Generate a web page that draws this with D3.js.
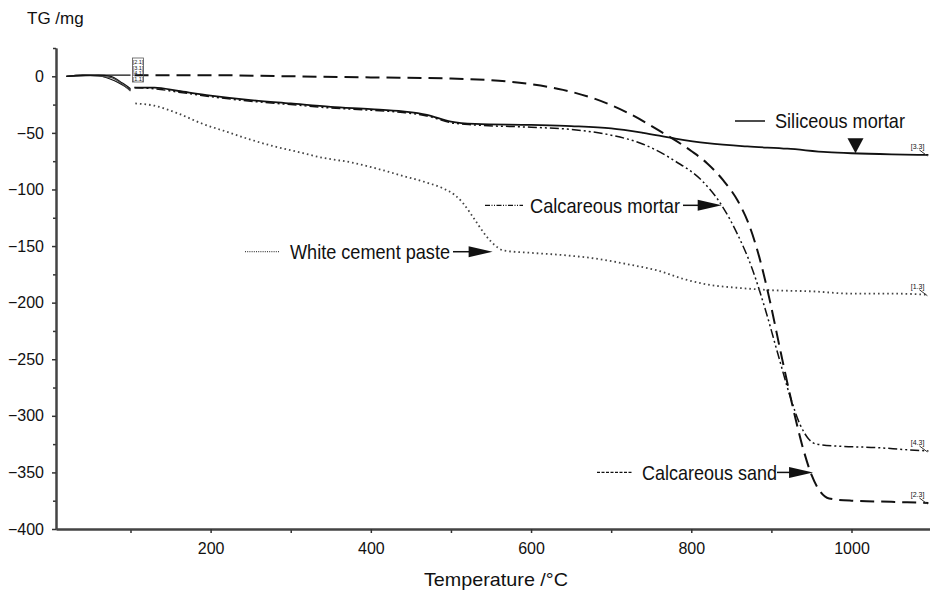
<!DOCTYPE html>
<meta charset="utf-8">
<style>
body { margin: 0; background: #fff; }
svg text { font-family: "Liberation Sans", Arial, sans-serif; fill: #111; }
.axis path, .axis line { stroke: #333; stroke-width: 1.5px; }
.axis text { font-size: 16px; fill: #111; }
.curve { fill: none; stroke: #111; }
</style>
<svg width="930" height="592"></svg>
<script src="https://d3js.org/d3.v7.min.js"></script>
<script>

// ---- data (temperature in degC, mass change in mg) ----
var seriesNames = ["Siliceous mortar", "Calcareous mortar", "White cement paste", "Calcareous sand"];
var startLabels = ["[2.1]", "[3.1]", "[4.1]", "[1.1]"];
var endLabels = ["[3.3]", "[4.3]", "[1.3]", "[2.3]"];

var siliceousStart = [[20, 0], [40, 1], [60, 1], [75, 0], [90, -6], [100, -11]];
var siliceousMain = [[105, -10], [130, -10], [160, -13], [200, -17], [250, -21], [300, -24], [350, -27],
  [400, -29], [440, -31], [470, -34], [500, -40], [530, -42], [600, -43], [650, -44], [700, -46],
  [740, -50], [780, -55], [820, -59], [870, -62], [920, -64], [970, -67], [1000, -68], [1050, -69], [1096, -69.5]];

var calcMortarStart = [[20, 0], [40, 1], [60, 0.5], [80, -4], [100, -12]];
var calcMortarMain = [[105, -10], [130, -11], [160, -14], [200, -18], [250, -22], [300, -25], [350, -28],
  [400, -30], [440, -32], [470, -35], [500, -41], [530, -43], [600, -45], [650, -47], [700, -52],
  [740, -60], [780, -75], [813, -92], [838, -114], [858, -140], [875, -168], [892, -205], [908, -245],
  [923, -282], [936, -308], [946, -320], [956, -325], [990, -327], [1030, -328], [1070, -330], [1096, -331]];

var pasteStart = [[20, 0], [50, 0.5], [75, -1], [90, -7], [100, -13]];
var pasteMain = [[106, -24], [130, -26], [160, -33], [190, -42], [220, -49], [250, -56], [280, -62],
  [310, -67], [340, -72], [375, -76], [410, -82], [440, -88], [470, -94], [490, -99], [505, -105],
  [515, -112], [530, -127], [545, -142], [556, -150], [566, -154], [600, -156], [640, -158], [680, -161],
  [720, -166], [760, -172], [790, -179], [820, -184], [860, -187], [900, -189], [950, -190],
  [1000, -192], [1050, -192], [1096, -193]];

var sandStart = [[20, 0], [60, 1], [100, 1]];
var sandMain = [[105, 1], [200, 1], [300, 0], [400, -1], [500, -2], [560, -4], [600, -7], [640, -12],
  [680, -20], [720, -32], [760, -48], [800, -66], [820, -77], [840, -92], [858, -110], [872, -131],
  [885, -160], [898, -198], [912, -245], [926, -290], [940, -330], [950, -352], [960, -366],
  [972, -373], [1000, -375], [1050, -376], [1096, -377]];

var xTicks = [200, 400, 600, 800, 1000];
var xMinor = [100, 300, 500, 700, 900];
var yTicks = [0, -50, -100, -150, -200, -250, -300, -350, -400];
var yMinor = [25, -25, -75, -125, -175, -225, -275, -325, -375];

var svg = d3.select("svg");

var x = d3.scaleLinear().domain([7, 1098]).range([56, 930]),
    y = d3.scaleLinear().domain([-400, 25]).range([529, 48]);

// axes
svg.append("g")
    .attr("class", "axis")
    .attr("transform", "translate(0,529)")
    .call(d3.axisBottom(x).tickValues(xMinor).tickFormat("").tickSize(4).tickSizeOuter(0));

svg.append("g")
    .attr("class", "axis")
    .attr("transform", "translate(0,529)")
    .call(d3.axisBottom(x).tickValues(xTicks).tickFormat(d3.format("d")).tickSize(4).tickSizeOuter(0).tickPadding(10));

svg.append("g")
    .attr("class", "axis")
    .attr("transform", "translate(56,0)")
    .call(d3.axisLeft(y).tickValues(yMinor).tickFormat("").tickSize(3).tickSizeOuter(0));

svg.append("g")
    .attr("class", "axis")
    .attr("transform", "translate(56,0)")
    .call(d3.axisLeft(y).tickValues(yTicks).tickFormat(d3.format("d")).tickSize(4).tickSizeOuter(0).tickPadding(8));

svg.selectAll(".axis .domain").style("stroke", "#444").style("stroke-width", "2px");

svg.append("text")
    .attr("x", 27).attr("y", 24)
    .style("font-size", "17px")
    .text("TG /mg");

svg.append("text")
    .attr("x", 424).attr("y", 586)
    .attr("textLength", 144).attr("lengthAdjust", "spacingAndGlyphs")
    .style("font-size", "19px")
    .text("Temperature /\u00b0C");

// curves
var styles = [
  {dash: null, width: 1.8, color: "#111"},
  {dash: "9,3,2,3,2,3", width: 1.5, color: "#111"},
  {dash: "1.6,3", width: 1.8, color: "#444"},
  {dash: "14,7", width: 2, color: "#111"}
];
var starts = [siliceousStart, calcMortarStart, pasteStart, sandStart];
var mains = [siliceousMain, calcMortarMain, pasteMain, sandMain];

var line = d3.line()
    .curve(d3.curveMonotoneX)
    .x(function(d) { return x(d[0]); })
    .y(function(d) { return y(d[1]); });

mains.forEach(function(m, i) {
  var s = styles[i];
  [starts[i], m].forEach(function(seg, j) {
    svg.append("path")
        .attr("class", "curve")
        .attr("d", line(seg))
        .style("stroke", s.color)
        .style("stroke-width", j === 0 ? 1.2 : s.width)
        .style("stroke-dasharray", j === 0 ? null : s.dash);
  });

  // end label
  var last = m[m.length - 1], px = x(last[0]), py = y(last[1]);
  svg.append("line")
      .attr("x1", px - 9).attr("y1", py - 5)
      .attr("x2", px - 1).attr("y2", py + 1)
      .style("stroke", "#333").style("stroke-width", 1);
  svg.append("text")
      .attr("x", px - 4).attr("y", py - 6)
      .attr("text-anchor", "end")
      .style("font-size", "7px")
      .text(endLabels[i]);
});

// segment-break labels near 100 degC
var bx = x(100) + 2;
svg.append("rect")
    .attr("x", bx).attr("y", 58).attr("width", 11).attr("height", 24)
    .style("fill", "none").style("stroke", "#555").style("stroke-width", 0.8);
startLabels.forEach(function(t, i) {
  svg.append("text")
      .attr("x", bx + 5.5).attr("y", 64 + i * 5.5)
      .attr("text-anchor", "middle")
      .style("font-size", "5.5px")
      .text(t);
});

// annotations
function tri(x0, y0, pts) {
  return "M" + pts.map(function(p) { return (x0 + p[0]) + "," + (y0 + p[1]); }).join("L") + "Z";
}

// Siliceous mortar: text above, downward triangle
var sTip = [x(1005), y(-68)];
svg.append("line")
    .attr("x1", 735).attr("x2", 765).attr("y1", 121).attr("y2", 121)
    .style("stroke", "#111").style("stroke-width", 1.5);
svg.append("text")
    .attr("x", 775).attr("y", 128)
    .attr("textLength", 130).attr("lengthAdjust", "spacingAndGlyphs")
    .style("font-size", "21px")
    .text(seriesNames[0]);
svg.append("path")
    .attr("d", tri(sTip[0], sTip[1], [[-8, -15], [8, -15], [0, 0]]))
    .style("fill", "#111");

var notes = [
  {i: 1, tip: [838, -114], textX: 530, textW: 150, sample: [485, 523], arrowFrom: 683},
  {i: 2, tip: [552, -155], textX: 290, textW: 160, sample: [245, 280], arrowFrom: 453},
  {i: 3, tip: [952, -350], textX: 642, textW: 135, sample: [597, 633], arrowFrom: 777}
];

notes.forEach(function(n) {
  var tx = x(n.tip[0]), ty = y(n.tip[1]), s = styles[n.i];
  svg.append("line")
      .attr("x1", n.sample[0]).attr("x2", n.sample[1])
      .attr("y1", ty).attr("y2", ty)
      .style("stroke", s.color).style("stroke-width", 1.2)
      .style("stroke-dasharray", n.i === 3 ? "3,1.5" : (n.i === 1 ? "5,1.5,1,1.5,1,1.5" : "1,1.2"));
  svg.append("text")
      .attr("x", n.textX).attr("y", ty + 7.5)
      .attr("textLength", n.textW).attr("lengthAdjust", "spacingAndGlyphs")
      .style("font-size", "21px")
      .text(seriesNames[n.i]);
  svg.append("line")
      .attr("x1", n.arrowFrom).attr("x2", tx - 20)
      .attr("y1", ty).attr("y2", ty)
      .style("stroke", "#111").style("stroke-width", 1.5);
  svg.append("path")
      .attr("d", tri(tx, ty, [[-24, -5.5], [-24, 5.5], [0, 0]]))
      .style("fill", "#111");
});

</script>
